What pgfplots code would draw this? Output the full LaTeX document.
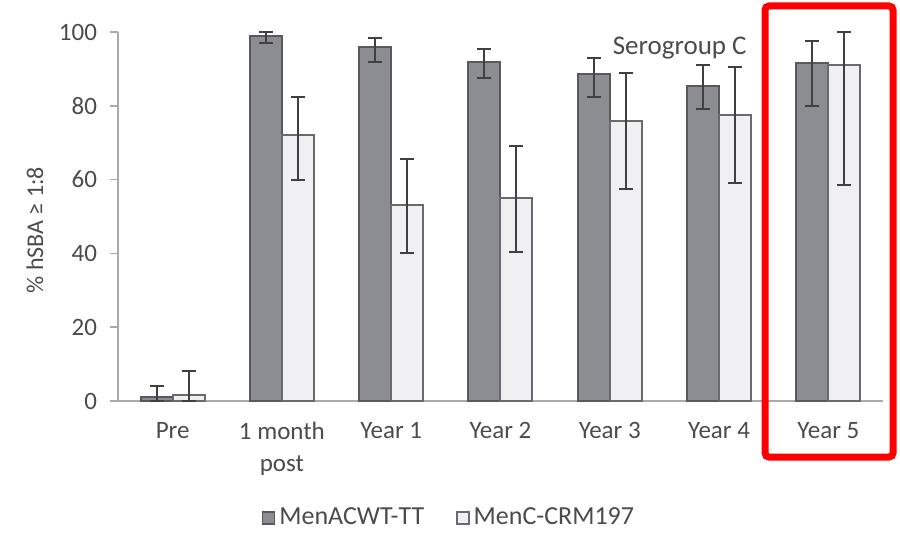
\documentclass[border=0pt]{standalone}
\usepackage{pgfplots}
\pgfplotsset{compat=1.18}
\usepackage{pgfplotstable}
\usepackage{fontspec}
\setmainfont{Carlito}

\definecolor{darkbar}{RGB}{140,141,146}
\definecolor{darkedge}{RGB}{88,88,93}
\definecolor{lightbar}{RGB}{240,240,242}
\definecolor{lightedge}{RGB}{105,105,110}
\definecolor{axisgray}{RGB}{170,170,170}
\definecolor{txt}{RGB}{75,75,78}
\definecolor{hilite}{RGB}{255,0,0}

% x  value  +err  -err
\pgfplotstableread{
x   y     ep    em
0   1     3     1
1   99    1     2
2   96    2.5   4
3   92    3.5   4.5
4   88.5  4.5   6
5   85.5  5.5   6.5
6   91.5  6     11.5
}\menacwy

\pgfplotstableread{
x   y     ep    em
0   1.5   6.5   1.5
1   72    10.5  12
2   53    12.5  13
3   55    14    14.5
4   76    13    18.5
5   77.5  13    18.5
6   91    9     32.5
}\menc

\begin{document}
\begin{tikzpicture}
\useasboundingbox (0,0) rectangle (450pt,268.5pt);
\begin{axis}[
  at={(59pt,68pt)}, anchor=south west,
  scale only axis, width=382.5pt, height=184.5pt,
  ybar=0pt, bar width=16pt,
  xmin=-0.5, xmax=6.5, ymin=0, ymax=100,
  axis x line*=bottom, axis y line*=left,
  axis line style={axisgray, line width=0.9pt, -},
  xtick={0,...,6},
  xticklabels={Pre,{1 month\\post},Year 1,Year 2,Year 3,Year 4,Year 5},
  x tick label style={font=\fontsize{12.5}{16}\selectfont, text=txt, align=center, yshift=-3pt},
  major x tick style={draw=none},
  extra x ticks={-0.5,0.5,1.5,2.5,3.5,4.5,5.5,6.5},
  extra x tick labels={},
  extra x tick style={major tick length=4pt, tick style={axisgray, line width=0.8pt}, tick pos=left, xtick align=outside},
  ytick={0,20,...,100},
  y tick label style={font=\fontsize{12.5}{14}\selectfont, text=txt, xshift=-3pt},
  ytick align=outside, major tick length=4pt,
  tick style={axisgray, line width=0.8pt},
  /pgf/number format/assume math mode=true,
  ylabel={\% hSBA ≥ 1:8},
  ylabel style={font=\fontsize{12}{14}\selectfont, text=txt, at={(axis description cs:-0.1085,0.463)}, anchor=center},
  legend columns=2,
  legend style={draw=none, fill=none, font=\fontsize{13}{15}\selectfont, text=txt,
    at={(axis description cs:0.434,-0.317)}, anchor=center,
    /tikz/every even column/.append style={column sep=14pt}},
  legend image code/.code={\draw[#1, line width=0.7pt] (0pt,-3pt) rectangle (6pt,3pt);},
  error bars/error bar style={line width=1pt, color=black!75},
  error bars/error mark options={rotate=90, mark size=3.5pt, line width=1pt, color=black!75},
  clip=false,
]
\addplot[fill=darkbar, draw=darkedge, line width=1pt,
  error bars/.cd, y dir=both, y explicit]
  table[x=x, y=y, y error plus=ep, y error minus=em]{\menacwy};
\addlegendentry{MenACWT-TT}
\addplot[fill=lightbar, draw=lightedge, line width=1pt,
  error bars/.cd, y dir=both, y explicit]
  table[x=x, y=y, y error plus=ep, y error minus=em]{\menc};
\addlegendentry{MenC-CRM197}
\node[font=\fontsize{13.5}{15}\selectfont, text=txt] at (axis cs:4.64,95.7) {Serogroup C};
\end{axis}
\draw[hilite, line width=3.5pt, rounded corners=2pt] (382.5pt,40pt) rectangle (446.5pt,265.5pt);
\end{tikzpicture}
\end{document}
